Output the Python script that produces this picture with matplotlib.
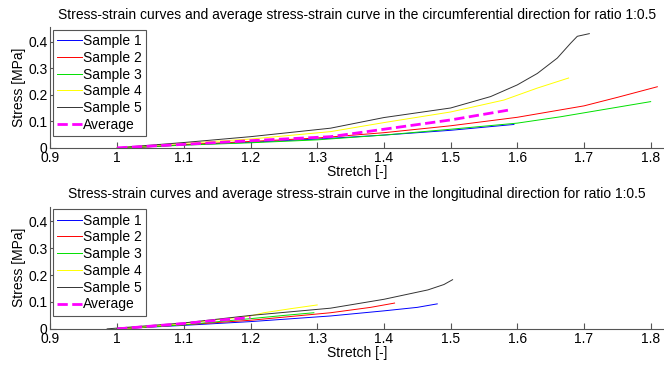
import matplotlib
matplotlib.use("Agg")
import matplotlib.pyplot as plt

plt.rcParams['font.family'] = ['Liberation Sans', 'DejaVu Sans']

# circumferential direction
circ_s1_x = [1.01, 1.1, 1.2, 1.3, 1.4, 1.5, 1.595]
circ_s1_y = [0.0, 0.011, 0.021, 0.033, 0.048, 0.066, 0.088]
circ_s2_x = [1.02, 1.1, 1.2, 1.3, 1.4, 1.5, 1.6, 1.7, 1.75, 1.81]
circ_s2_y = [0.0, 0.012, 0.024, 0.037, 0.057, 0.083, 0.115, 0.158, 0.19, 0.23]
circ_s3_x = [1.01, 1.1, 1.2, 1.3, 1.4, 1.5, 1.6, 1.665, 1.8]
circ_s3_y = [0.0, 0.01, 0.019, 0.03, 0.048, 0.07, 0.093, 0.117, 0.174]
circ_s4_x = [1.0, 1.1, 1.2, 1.32, 1.4, 1.5, 1.58, 1.63, 1.677]
circ_s4_y = [0.0, 0.017, 0.033, 0.061, 0.095, 0.135, 0.18, 0.225, 0.263]
circ_s5_x = [1.0, 1.1, 1.2, 1.32, 1.4, 1.5, 1.56, 1.6, 1.63, 1.66, 1.68, 1.69, 1.708]
circ_s5_y = [0.0, 0.02, 0.042, 0.074, 0.114, 0.15, 0.193, 0.237, 0.28, 0.338, 0.394, 0.42, 0.43]
circ_avg_x = [1.0, 1.1, 1.2, 1.32, 1.4, 1.5, 1.589]
circ_avg_y = [0.0, 0.013, 0.027, 0.042, 0.07, 0.105, 0.143]

# longitudinal direction
long_s1_x = [1.0, 1.1, 1.2, 1.32, 1.4, 1.45, 1.48]
long_s1_y = [0.0, 0.013, 0.027, 0.048, 0.067, 0.08, 0.093]
long_s2_x = [1.0, 1.1, 1.2, 1.32, 1.38, 1.416]
long_s2_y = [0.0, 0.015, 0.032, 0.06, 0.08, 0.096]
long_s3_x = [1.0, 1.1, 1.2, 1.25, 1.295]
long_s3_y = [0.0, 0.015, 0.038, 0.05, 0.06]
long_s4_x = [1.0, 1.1, 1.2, 1.22, 1.26, 1.3]
long_s4_y = [0.0, 0.02, 0.048, 0.06, 0.075, 0.089]
long_s5_x = [0.985, 1.1, 1.2, 1.32, 1.4, 1.466, 1.49, 1.503]
long_s5_y = [0.0, 0.022, 0.05, 0.077, 0.11, 0.145, 0.165, 0.183]
long_avg_x = [1.0, 1.05, 1.1, 1.15, 1.2]
long_avg_y = [0.0, 0.01, 0.02, 0.032, 0.042]

labels = ['Sample 1', 'Sample 2', 'Sample 3', 'Sample 4', 'Sample 5', 'Average']
colors = ['#0000ff', '#ff0000', '#00e000', '#ffff00', '#333333']

xticks = [0.9, 1, 1.1, 1.2, 1.3, 1.4, 1.5, 1.6, 1.7, 1.8]
xticklabels = ['0.9', '1', '1.1', '1.2', '1.3', '1.4', '1.5', '1.6', '1.7', '1.8']
yticks = [0, 0.1, 0.2, 0.3, 0.4]
yticklabels = ['0', '0.1', '0.2', '0.3', '0.4']

fig = plt.figure(figsize=(6.64, 3.65), dpi=100)
ax1 = fig.add_axes([0.076, 0.595, 0.924, 0.331])
ax2 = fig.add_axes([0.076, 0.099, 0.924, 0.335])


def draw(ax, series, avg, title):
    for (x, y), c in zip(series, colors):
        ax.plot(x, y, color=c, lw=0.7)
    ax.plot(avg[0], avg[1], '--', color='#ff00ff', lw=2)
    ax.set_xlim(0.9, 1.82)
    ax.set_ylim(0, 0.455)
    ax.set_xticks(xticks)
    ax.set_xticklabels(xticklabels)
    ax.set_yticks(yticks)
    ax.set_yticklabels(yticklabels)
    ax.tick_params(direction='in', length=4, labelsize=10, colors='#555555',
                   labelcolor='black', pad=2)
    for s in ['top', 'right']:
        ax.spines[s].set_visible(False)
    for s in ['left', 'bottom']:
        ax.spines[s].set_color('#555555')
    ax.set_xlabel('Stretch [-]', fontsize=10, labelpad=0)
    ax.set_ylabel('Stress [MPa]', fontsize=10, labelpad=2)
    ax.set_title(title, fontsize=10, pad=6)
    leg = ax.legend(labels, loc='upper left', fontsize=10, fancybox=False,
                    framealpha=1, edgecolor='#555555', handlelength=1.75,
                    handletextpad=0.1, labelspacing=0.2, borderpad=0.3,
                    borderaxespad=0.2)
    leg.get_frame().set_linewidth(0.8)


draw(ax1,
     [(circ_s1_x, circ_s1_y), (circ_s2_x, circ_s2_y), (circ_s3_x, circ_s3_y),
      (circ_s4_x, circ_s4_y), (circ_s5_x, circ_s5_y)],
     (circ_avg_x, circ_avg_y),
     'Stress-strain curves and average stress-strain curve in the circumferential direction for ratio 1:0.5')
draw(ax2,
     [(long_s1_x, long_s1_y), (long_s2_x, long_s2_y), (long_s3_x, long_s3_y),
      (long_s4_x, long_s4_y), (long_s5_x, long_s5_y)],
     (long_avg_x, long_avg_y),
     'Stress-strain curves and average stress-strain curve in the longitudinal direction for ratio 1:0.5')

fig.savefig('out.png', dpi=100)
